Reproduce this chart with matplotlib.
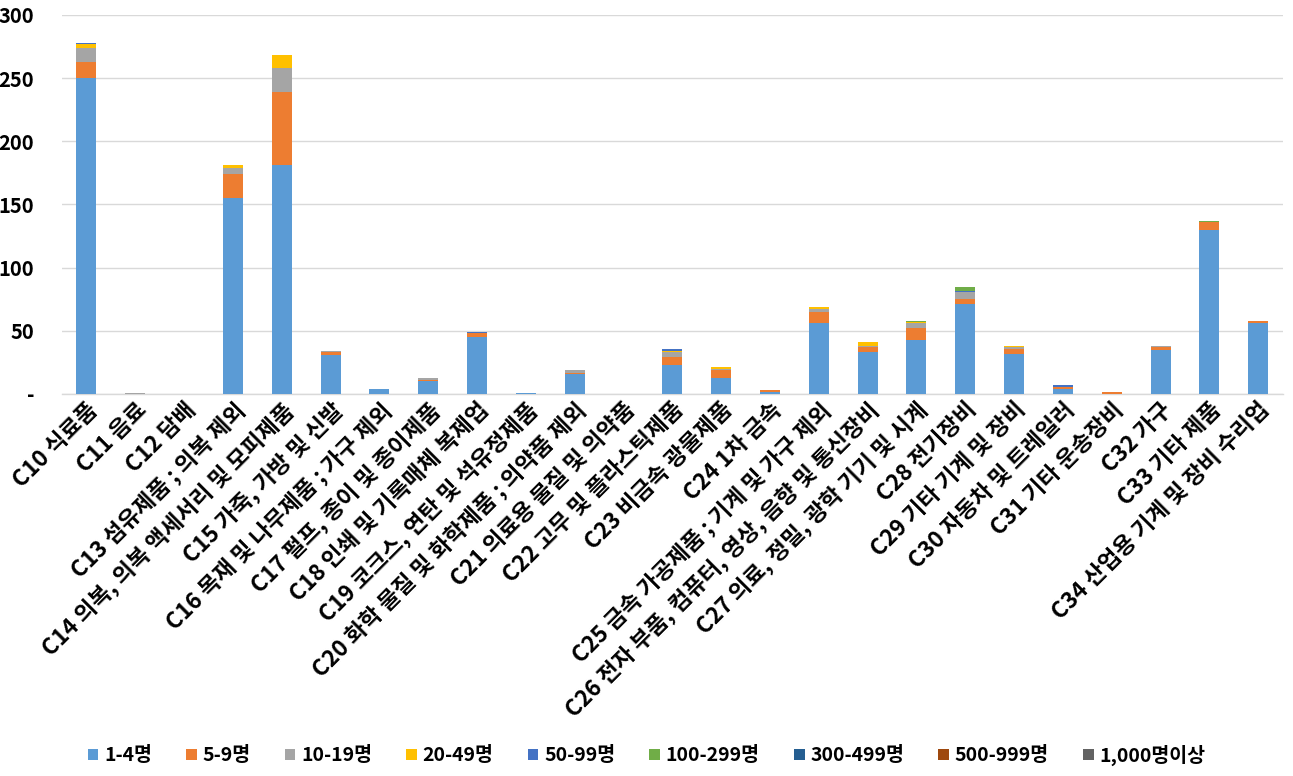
import matplotlib
matplotlib.use("Agg")
import matplotlib.pyplot as plt
import numpy as np

plt.rcParams['font.family'] = ['Noto Sans CJK KR', 'DejaVu Sans']

categories = [
    "C10 식료품", "C11 음료", "C12 담배", "C13 섬유제품 ; 의복 제외",
    "C14 의복, 의복 액세서리 및 모피제품", "C15 가죽, 가방 및 신발",
    "C16 목재 및 나무제품 ; 가구 제외", "C17 펄프, 종이 및 종이제품",
    "C18 인쇄 및 기록매체 복제업", "C19 코크스, 연탄 및 석유정제품",
    "C20 화학 물질 및 화학제품 ; 의약품 제외", "C21 의료용 물질 및 의약품",
    "C22 고무 및 플라스틱제품", "C23 비금속 광물제품", "C24 1차 금속",
    "C25 금속 가공제품 ; 기계 및 가구 제외",
    "C26 전자 부품, 컴퓨터, 영상, 음향 및 통신장비",
    "C27 의료, 정밀, 광학 기기 및 시계", "C28 전기장비",
    "C29 기타 기계 및 장비", "C30 자동차 및 트레일러", "C31 기타 운송장비",
    "C32 가구", "C33 기타 제품", "C34 산업용 기계 및 장비 수리업",
]

series_names = ["1-4명", "5-9명", "10-19명", "20-49명", "50-99명",
                "100-299명", "300-499명", "500-999명", "1,000명이상"]

s_1_4 =     [250, 0.3, 0, 155, 181, 31, 4, 10, 45, 1, 16, 0, 23, 13, 1.6, 56, 33, 43, 71.5, 31.5, 4, 0, 35, 130, 56]
s_5_9 =     [13, 0, 0, 19, 58, 2.5, 0, 1.3, 3.5, 0, 0.5, 0, 6, 6, 1.6, 9, 4, 9, 4, 4, 1.5, 1.5, 2, 6, 2]
s_10_19 =   [11, 0.6, 0, 5, 19, 0.8, 0, 1.3, 0, 0, 2.5, 0, 4, 1, 0, 2.5, 1, 4, 5, 1.5, 0, 0, 1, 0, 0]
s_20_49 =   [3, 0, 0, 2, 10, 0, 0, 0, 0, 0, 0, 0, 1.3, 1, 0, 1, 3, 1, 0, 1, 0, 0, 0, 0, 0]
s_50_99 =   [1, 0, 0, 0, 0, 0, 0, 0, 0.7, 0, 0, 0, 1, 0, 0, 0, 0, 0, 1, 0, 1.5, 0, 0, 0, 0]
s_100_299 = [0, 0, 0, 0, 0, 0, 0, 0, 0, 0, 0, 0, 0, 0, 0, 0, 0, 1, 3, 0, 0, 0, 0, 0.8, 0]
s_300_499 = [0] * 25
s_500_999 = [0] * 25
s_1000 =    [0] * 25

series = [s_1_4, s_5_9, s_10_19, s_20_49, s_50_99, s_100_299, s_300_499, s_500_999, s_1000]
colors = ["#5B9BD5", "#ED7D31", "#A5A5A5", "#FFC000", "#4472C4",
          "#70AD47", "#255E91", "#9E480E", "#636363"]

fig = plt.figure(figsize=(12.93, 7.76), dpi=100)
ax = fig.add_axes([0.048, 0.4923, 0.944, 0.4884])

x = np.arange(len(categories))
bottom = np.zeros(len(categories))
handles = []
for name, vals, c in zip(series_names, series, colors):
    v = np.array(vals, dtype=float)
    b = ax.bar(x, v, 0.41, bottom=bottom, color=c, label=name, zorder=3)
    handles.append(b)
    bottom += v

ax.set_xlim(-0.5, len(categories) - 0.5)
ax.set_ylim(0, 300)
ax.set_yticks([0, 50, 100, 150, 200, 250, 300])
ax.set_yticklabels(["-", "50", "100", "150", "200", "250", "300"],
                   fontsize=14.5, fontweight='bold')
ax.yaxis.grid(True, color="#D9D9D9", linewidth=1, zorder=0)
ax.tick_params(axis='y', length=0, pad=20)
ax.tick_params(axis='x', length=0, pad=3)
for s in ["top", "right", "left"]:
    ax.spines[s].set_visible(False)
ax.spines["bottom"].set_color("#D9D9D9")
ax.spines["bottom"].set_linewidth(1)

ax.set_xticks(x)
ax.set_xticklabels(categories, rotation=45, ha='right', rotation_mode='anchor',
                   fontsize=16.3, fontweight='bold')

fig.legend(handles=handles, labels=series_names, loc='center',
           bbox_to_anchor=(0.5, 0.027), ncol=9, frameon=False,
           prop={'size': 14, 'weight': 'bold'},
           handlelength=0.55, handleheight=0.55, handletextpad=0.3,
           columnspacing=1.75)

fig.savefig("out.png", dpi=100, facecolor="white")
